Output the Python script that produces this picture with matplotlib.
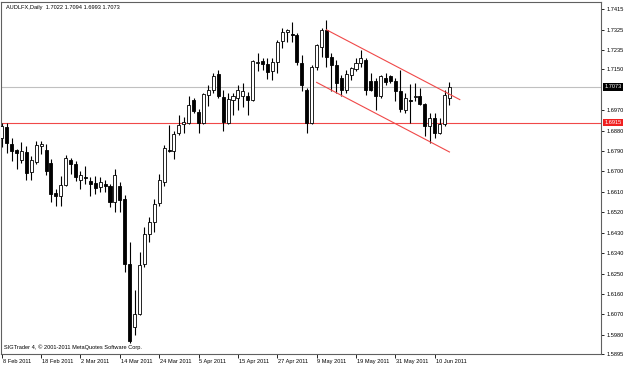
import matplotlib
matplotlib.use("Agg")
import matplotlib.pyplot as plt
import matplotlib.transforms as mtransforms
import numpy as np

# daily bars, 8 Feb 2011 .. 15 Jun 2011
opens = [1.6849, 1.6898, 1.6823, 1.6795, 1.6751, 1.6788, 1.6696, 1.6742, 1.6812, 1.6795,
         1.6739, 1.6605, 1.6590, 1.6640, 1.6750, 1.6732, 1.6663, 1.6675, 1.6659, 1.6649,
         1.6632, 1.6643, 1.6634, 1.6567, 1.6634, 1.6578, 1.6293, 1.6015, 1.6073, 1.6293,
         1.6425, 1.6479, 1.6559, 1.6654, 1.6793, 1.6790, 1.6868, 1.6908, 1.6915, 1.7017,
         1.6964, 1.6915, 1.7039, 1.7061, 1.7131, 1.7029, 1.6915, 1.7017, 1.7022, 1.7032,
         1.7035, 1.7017, 1.7178, 1.7189, 1.7174, 1.7142, 1.7185, 1.7276, 1.7313, 1.7307,
         1.7303, 1.7178, 1.7061, 1.6915, 1.7163, 1.7251, 1.7322, 1.7203, 1.7168, 1.7113,
         1.7061, 1.7127, 1.7153, 1.7178, 1.7193, 1.7098, 1.7101, 1.7033, 1.7113, 1.7120,
         1.7098, 1.7054, 1.6972, 1.7017, 1.7027, 1.7033, 1.6998, 1.6900, 1.6934, 1.6871,
         1.6908, 1.7022]
highs = [1.6915, 1.6915, 1.6849, 1.6801, 1.6832, 1.6812, 1.6768, 1.6834, 1.6834, 1.6821,
         1.6754, 1.6622, 1.6681, 1.6773, 1.6761, 1.6746, 1.6703, 1.6725, 1.6674, 1.6681,
         1.6674, 1.6662, 1.6644, 1.6710, 1.6652, 1.6596, 1.6388, 1.6176, 1.6344, 1.6454,
         1.6498, 1.6578, 1.6688, 1.6815, 1.6903, 1.6878, 1.6951, 1.6940, 1.7032, 1.7025,
         1.6976, 1.7047, 1.7083, 1.7135, 1.7149, 1.7058, 1.7047, 1.7047, 1.7083, 1.7091,
         1.7051, 1.7193, 1.7222, 1.7200, 1.7200, 1.7200, 1.7281, 1.7332, 1.7329, 1.7361,
         1.7310, 1.7215, 1.7066, 1.7171, 1.7262, 1.7332, 1.7369, 1.7222, 1.7193, 1.7127,
         1.7149, 1.7163, 1.7200, 1.7237, 1.7202, 1.7135, 1.7113, 1.7127, 1.7135, 1.7127,
         1.7113, 1.7149, 1.7047, 1.7086, 1.7091, 1.7069, 1.7003, 1.6959, 1.6959, 1.6937,
         1.7061, 1.7094]
lows = [1.6810, 1.6783, 1.6746, 1.6710, 1.6739, 1.6663, 1.6663, 1.6732, 1.6776, 1.6685,
        1.6564, 1.6549, 1.6549, 1.6634, 1.6688, 1.6659, 1.6622, 1.6644, 1.6590, 1.6600,
        1.6608, 1.6608, 1.6542, 1.6520, 1.6520, 1.6257, 1.5942, 1.5978, 1.6066, 1.6279,
        1.6388, 1.6432, 1.6549, 1.6637, 1.6786, 1.6757, 1.6859, 1.6871, 1.6911, 1.6959,
        1.6871, 1.6908, 1.6988, 1.7047, 1.7025, 1.6878, 1.6908, 1.6951, 1.6973, 1.6984,
        1.6947, 1.7013, 1.7142, 1.7149, 1.7110, 1.7105, 1.7135, 1.7244, 1.7273, 1.7273,
        1.7171, 1.7054, 1.6871, 1.6908, 1.7149, 1.7207, 1.7163, 1.7054, 1.7047, 1.7032,
        1.7047, 1.7105, 1.7142, 1.7163, 1.7039, 1.7054, 1.6973, 1.7025, 1.7083, 1.7091,
        1.7010, 1.6963, 1.6959, 1.6915, 1.7010, 1.6995, 1.6856, 1.6827, 1.6849, 1.6864,
        1.6900, 1.6993]
closes = [1.6900, 1.6827, 1.6790, 1.6783, 1.6790, 1.6692, 1.6750, 1.6815, 1.6821, 1.6700,
          1.6600, 1.6593, 1.6641, 1.6758, 1.6732, 1.6674, 1.6684, 1.6672, 1.6644, 1.6627,
          1.6652, 1.6635, 1.6566, 1.6684, 1.6575, 1.6293, 1.5952, 1.6070, 1.6286, 1.6425,
          1.6479, 1.6556, 1.6663, 1.6802, 1.6789, 1.6867, 1.6903, 1.6919, 1.6995, 1.6966,
          1.6915, 1.7042, 1.7061, 1.7120, 1.7032, 1.6919, 1.7020, 1.7032, 1.7061, 1.7057,
          1.7014, 1.7189, 1.7185, 1.7175, 1.7137, 1.7183, 1.7273, 1.7317, 1.7322, 1.7303,
          1.7183, 1.7080, 1.6915, 1.7163, 1.7256, 1.7322, 1.7207, 1.7168, 1.7092, 1.7058,
          1.7130, 1.7156, 1.7178, 1.7200, 1.7061, 1.7059, 1.7033, 1.7120, 1.7094, 1.7098,
          1.7057, 1.6976, 1.7024, 1.7010, 1.7034, 1.6998, 1.6900, 1.6934, 1.6870, 1.6908,
          1.7037, 1.7073]

date_labels = ["8 Feb 2011", "18 Feb 2011", "2 Mar 2011", "14 Mar 2011", "24 Mar 2011",
               "5 Apr 2011", "15 Apr 2011", "27 Apr 2011", "9 May 2011", "19 May 2011",
               "31 May 2011", "10 Jun 2011"]
price_ticks = [1.7415, 1.7325, 1.7235, 1.7150, 1.6970, 1.6880, 1.6790, 1.6700, 1.6610,
               1.6520, 1.6430, 1.6340, 1.6250, 1.6160, 1.6070, 1.5980, 1.5895]
support_level = 1.6915
bid_level = 1.7073
channel_upper = [(66.0, 1.7325), (93.1, 1.7017)]
channel_lower = [(64.0, 1.7093), (91.0, 1.6786)]

plt.rcParams['font.family'] = ['Liberation Sans', 'DejaVu Sans']
fs = 4.1

W, H = 625, 365
fig = plt.figure(figsize=(W / 100, H / 100), dpi=100)
left_px, right_px, top_px, bottom_px = 1.5, 601, 1.5, 354
ax = fig.add_axes([left_px / W, 1 - bottom_px / H, (right_px - left_px) / W,
                   (bottom_px - top_px) / H])

n = len(opens)
x = np.arange(n)
o = np.array(opens)
c = np.array(closes)
hi = np.array(highs)
lo = np.array(lows)
up = c >= o

# wicks, then bodies (white = up day, black = down day)
ax.vlines(x, lo, hi, color="black", linewidth=0.8, zorder=2)
body_lo = np.minimum(o, c)
body_h = np.maximum(np.abs(c - o), 0.00005)
ax.bar(x[up], body_h[up], bottom=body_lo[up], width=0.62, color="white",
       edgecolor="black", linewidth=0.6, zorder=3)
ax.bar(x[~up], body_h[~up], bottom=body_lo[~up], width=0.62, color="black",
       edgecolor="black", linewidth=0.6, zorder=3)

ax.axhline(bid_level, color="#c0c0c0", linewidth=0.8, zorder=1)
ax.axhline(support_level, color="#f04848", linewidth=0.8, zorder=1)
for line in (channel_upper, channel_lower):
    ax.plot([p[0] for p in line], [p[1] for p in line], color="#f04848",
            linewidth=0.8, zorder=4)

px_per_bar = 4.92
ax.set_xlim(-0.05, (right_px - left_px) / px_per_bar - 0.05)
ax.set_ylim(1.74563 - bottom_px * 0.000439, 1.74563 - top_px * 0.000439)

ax.set_xticks(np.arange(0, 8 * len(date_labels), 8))
ax.set_xticklabels(date_labels, fontsize=fs, ha="left")
ax.tick_params(axis="x", length=3, width=0.6, pad=0.8, colors="black")
offset = mtransforms.ScaledTranslation(0.8 / 100, 0, fig.dpi_scale_trans)
for lab in ax.get_xticklabels():
    lab.set_transform(lab.get_transform() + offset)

ax.yaxis.tick_right()
ax.set_yticks(price_ticks)
ax.set_yticklabels(["%.4f" % v for v in price_ticks], fontsize=fs)
ax.tick_params(axis="y", length=2.5, width=0.6, pad=1.5)

for s in ax.spines.values():
    s.set_color("#606060")
    s.set_linewidth(0.8)

trans = mtransforms.blended_transform_factory(ax.transAxes, ax.transData)
ax.text(1.0055, bid_level, "%.4f" % bid_level, transform=trans, fontsize=fs,
        color="white", va="center", ha="left",
        bbox=dict(boxstyle="square,pad=0.2", facecolor="black", edgecolor="none"))
ax.text(1.0055, support_level, "%.4f" % support_level, transform=trans, fontsize=fs,
        color="white", va="center", ha="left",
        bbox=dict(boxstyle="square,pad=0.2", facecolor="#f02020", edgecolor="none"))

header = "AUDLFX,Daily  %.4f %.4f %.4f %.4f" % (opens[-1], highs[-1], lows[-1], closes[-1])
ax.text(0.007, 0.99, header, transform=ax.transAxes, fontsize=fs, va="top", ha="left")
ax.text(0.004, 0.012, "SIGTrader 4, \u00a9 2001-2011 MetaQuotes Software Corp.",
        transform=ax.transAxes, fontsize=fs, va="bottom", ha="left")

fig.savefig("out.png", dpi=100)
